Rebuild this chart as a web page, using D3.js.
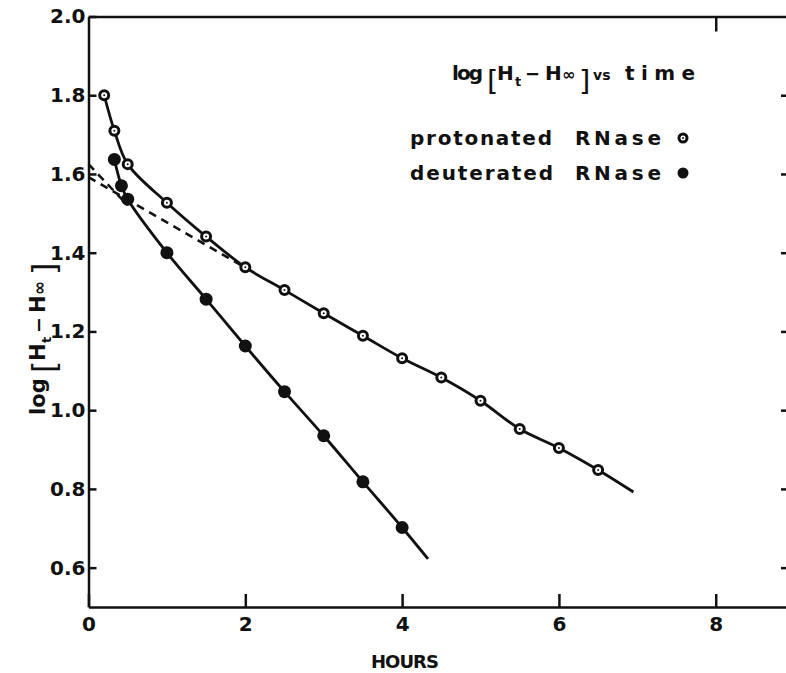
<!DOCTYPE html>
<html>
<head>
<meta charset="utf-8">
<script src="https://cdn.jsdelivr.net/npm/d3@7"></script>
<style>
  body { margin: 0; background: #fff; }
  text { font-family: "DejaVu Sans", sans-serif; font-weight: bold; fill: #111; }
</style>
</head>
<body>
<div id="chart"></div>
<script>
// values (log[Ht - Hinf] against hours)
const protonatedTime = [0.2, 0.33, 0.5, 1.0, 1.5, 2.0, 2.5, 3.0, 3.5, 4.0, 4.5, 5.0, 5.5, 6.0, 6.5];
const protonatedLog  = [1.80, 1.71, 1.625, 1.527, 1.441, 1.363, 1.305, 1.246, 1.189, 1.132, 1.083, 1.024, 0.952, 0.904, 0.848];
const deuteratedTime = [0.33, 0.42, 0.5, 1.0, 1.5, 2.0, 2.5, 3.0, 3.5, 4.0];
const deuteratedLog  = [1.637, 1.570, 1.536, 1.400, 1.282, 1.163, 1.047, 0.935, 0.818, 0.702];
// where the drawn curves run on past the last point
const protonatedEnd = [6.95, 0.792];
const deuteratedEnd = [4.33, 0.622];
// dashed extrapolations of the straight parts back to t = 0
const protonatedDashT = [0, 2.0];
const protonatedDashV = [1.592, 1.362];
const deuteratedDashT = [0, 0.5];
const deuteratedDashV = [1.625, 1.52];

const xTicks = [0, 2, 4, 6, 8];
const yTicks = [0.6, 0.8, 1.0, 1.2, 1.4, 1.6, 1.8, 2.0];

const W = 786, H = 673;
const svg = d3.select("#chart").append("svg")
    .attr("width", W).attr("height", H);

const x = d3.scaleLinear().domain([0, 8.9]).range([88.5, 786.3]);
const y = d3.scaleLinear().domain([0.5, 2.0]).range([607, 16.5]);

/*
 * Axes
 */
const axisStyle = g => {
  g.selectAll("path, line").attr("stroke", "#111").attr("stroke-width", 2.5);
  g.selectAll("text").style("font-size", "20px").attr("fill", "#111");
};

svg.append("g")
    .attr("transform", "translate(" + x(0) + ",0)")
    .call(d3.axisLeft(y).tickValues(yTicks).tickSize(-8).tickSizeOuter(0)
          .tickPadding(3).tickFormat(d3.format(".1f")))
    .call(axisStyle);

svg.append("g")
    .attr("transform", "translate(0," + y(0.5) + ")")
    .call(d3.axisBottom(x).tickValues(xTicks).tickSize(-13).tickSizeOuter(0)
          .tickPadding(10).tickFormat(d3.format("d")))
    .call(axisStyle);

// top edge, only the 8 h tick shows
svg.append("g")
    .attr("transform", "translate(0," + y(2.0) + ")")
    .call(d3.axisTop(x).tickValues([8]).tickSize(-15).tickSizeOuter(0).tickFormat(""))
    .call(axisStyle);

// right edge is cut off; just the inward ticks remain
svg.append("g")
    .attr("transform", "translate(" + (W + 1) + ",0)")
    .call(d3.axisRight(y).tickValues(yTicks.slice(0, 7)).tickSize(-6).tickFormat(""))
    .call(axisStyle)
    .select(".domain").remove();

/*
 * Lines
 */
const line = d3.line().x(d => x(d[0])).y(d => y(d[1]));
const smooth = d3.line().x(d => x(d[0])).y(d => y(d[1])).curve(d3.curveCatmullRom.alpha(0.5));

const protPts = protonatedTime.map((t, i) => [t, protonatedLog[i]]);
const deutPts = deuteratedTime.map((t, i) => [t, deuteratedLog[i]]);

svg.append("path")
    .attr("d", smooth(protPts.concat([protonatedEnd])))
    .attr("fill", "none").attr("stroke", "#111").attr("stroke-width", 2.8);

svg.append("path")
    .attr("d", smooth(deutPts.concat([deuteratedEnd])))
    .attr("fill", "none").attr("stroke", "#111").attr("stroke-width", 2.8);

svg.append("path")
    .attr("d", line(protonatedDashT.map((t, i) => [t, protonatedDashV[i]])))
    .attr("fill", "none").attr("stroke", "#111").attr("stroke-width", 2.5)
    .attr("stroke-dasharray", "8,6");

svg.append("path")
    .attr("d", line(deuteratedDashT.map((t, i) => [t, deuteratedDashV[i]])))
    .attr("fill", "none").attr("stroke", "#111").attr("stroke-width", 2.5)
    .attr("stroke-dasharray", "8,6");

/*
 * Markers
 */
const openMark = (g, cx, cy, r) => {
  g.append("circle").attr("cx", cx).attr("cy", cy).attr("r", r)
    .attr("fill", "#fff").attr("stroke", "#111").attr("stroke-width", 3);
  g.append("circle").attr("cx", cx).attr("cy", cy).attr("r", 1)
    .attr("fill", "#111");
};

const protG = svg.append("g");
protPts.forEach(d => openMark(protG, x(d[0]), y(d[1]), 4.5));

svg.append("g").selectAll("circle")
    .data(deutPts)
    .enter()
    .append("circle")
    .attr("cx", d => x(d[0]))
    .attr("cy", d => y(d[1]))
    .attr("r", 6.5)
    .attr("fill", "#111");

/*
 * Legend / annotation
 */
const put = (parent, str, px, py, size, extra) => {
  const t = parent.append("text").attr("x", px).attr("y", py)
      .style("font-size", size + "px").text(str);
  if (extra) extra(t);
  return t;
};
const thin = t => t.style("font-weight", "normal");
const fit = len => t => t.attr("textLength", len).attr("lengthAdjust", "spacing");

put(svg, "log", 452, 80, 20, fit(31));
put(svg, "[", 487, 91, 29, thin);
put(svg, "H", 497, 80, 20);
put(svg, "t", 515, 86, 13);
put(svg, "\u2212", 525, 80, 18);
put(svg, "H", 545, 80, 20);
put(svg, "\u221e", 562, 80, 16);
put(svg, "]", 579, 91, 29, thin);
put(svg, "vs", 593, 80, 14);
put(svg, "time", 625, 80, 20, fit(70));

put(svg, "protonated", 410, 145, 20, fit(142));
put(svg, "RNase", 575, 145, 20, fit(86));
openMark(svg, 683, 138, 4);
put(svg, "deuterated", 410, 180, 20, fit(143));
put(svg, "RNase", 575, 180, 20, fit(86));
svg.append("circle").attr("cx", 683).attr("cy", 173).attr("r", 5.5).attr("fill", "#111");

// axis titles
put(svg, "HOURS", 405, 668, 18, t => t.attr("text-anchor", "middle").call(fit(68)));

const yl = svg.append("g").attr("transform", "translate(45,415) rotate(-90)");
put(yl, "log", 0, 0, 21);
put(yl, "[", 42, 10, 32, thin);
put(yl, "H", 54, 0, 21);
put(yl, "t", 72, 6, 13);
put(yl, "\u2212", 82, 0, 19);
put(yl, "H", 102, 0, 21);
put(yl, "\u221e", 120, 0, 17);
put(yl, "]", 140, 10, 32, thin);
</script>
</body>
</html>
